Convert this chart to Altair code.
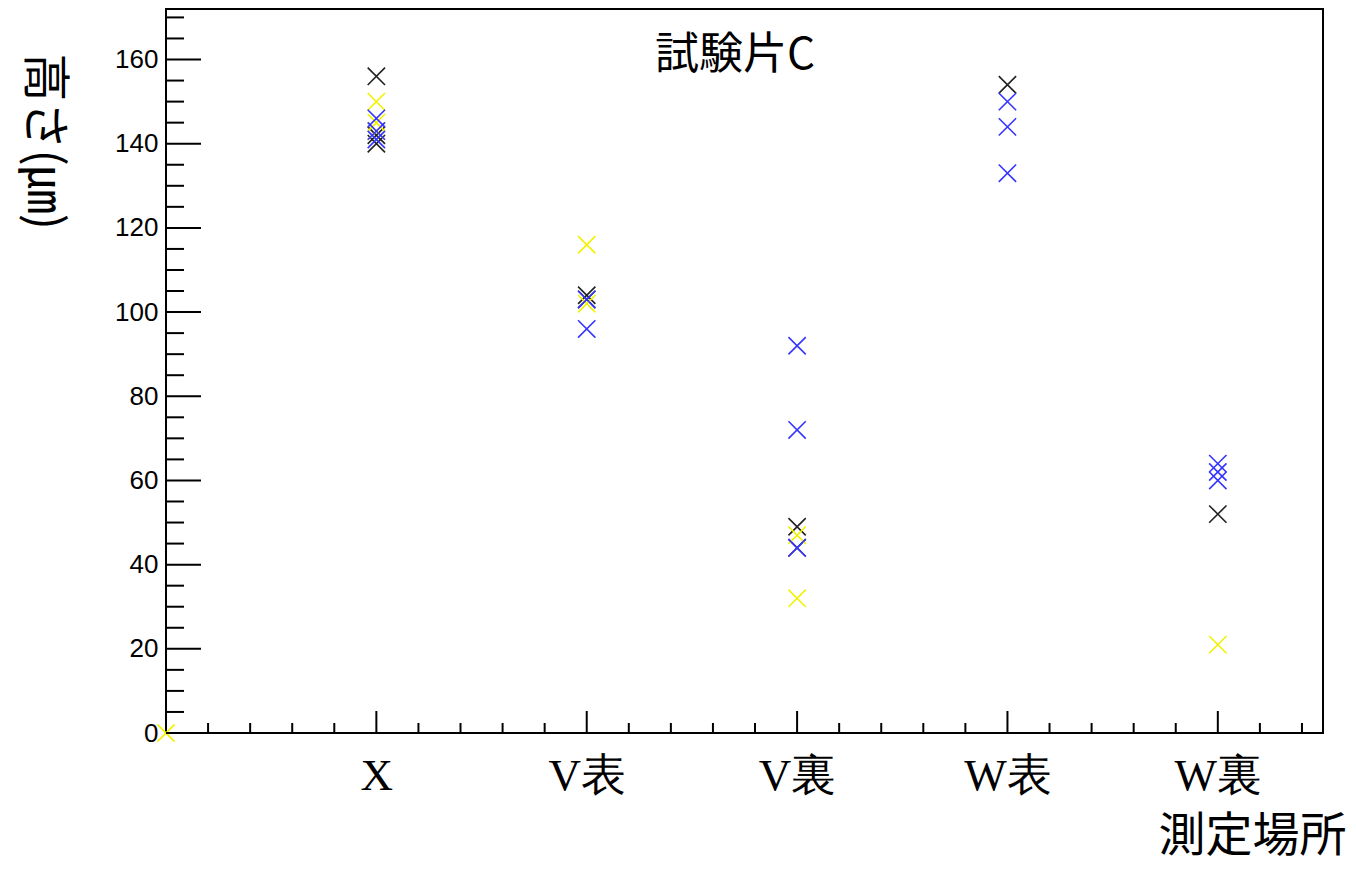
import altair as alt
import pandas as pd

# Measurement locations (x = 1..5)
locations = ["X", "V表", "V裏", "W表", "W裏"]

# Series (marker colours) – position index and height (µm)
black_x = [1, 1, 1, 2, 2, 3, 3, 4, 5]
black_y = [156, 142, 140, 104, 103, 49, 44, 154, 52]
yellow_x = [0, 1, 1, 1, 2, 2, 3, 3, 5]
yellow_y = [0, 150, 145, 143, 116, 102, 47, 32, 21]
blue_x = [1, 1, 1, 2, 2, 3, 3, 3, 4, 4, 4, 5, 5, 5]
blue_y = [146, 143, 141, 103, 96, 92, 72, 44, 150, 144, 133, 64, 62, 60]

series_names = ["black", "yellow", "blue"]
series_colors = ["#222222", "#f2f200", "#3535ff"]

y_major = [0, 20, 40, 60, 80, 100, 120, 140, 160]
y_minor = [v for v in range(5, 172, 5) if v % 20 != 0]
x_major = [1, 2, 3, 4, 5]
x_minor = [round(i * 0.2, 1) for i in range(1, 28) if i % 5 != 0]

rows = []
for name, xs_, ys_ in zip(series_names, [black_x, yellow_x, blue_x], [black_y, yellow_y, blue_y]):
    for a, b in zip(xs_, ys_):
        rows.append({"pos": a, "h": b, "s": name})
df = pd.DataFrame(rows)

W, H = 1157, 724
xscale = alt.Scale(domain=[0, 5.5], nice=False, zero=False)
yscale = alt.Scale(domain=[0, 172], nice=False, zero=False)

label_expr = "[" + ",".join("'%s'" % c for c in locations) + "][datum.value-1]"

x_axis = alt.Axis(
    values=x_major, labelExpr=label_expr, tickSize=0, domain=False, grid=False,
    labelFont="Liberation Serif", labelFontSize=45, labelFontWeight="normal",
    labelColor="black", labelPadding=20,
    title="測定場所", titleFont="Noto Sans CJK JP", titleFontSize=47,
    titleFontWeight="normal", titleColor="black",
    titleX=1180, titleY=117, titleAlign="right", titleBaseline="alphabetic",
)
y_axis = alt.Axis(
    values=y_major, tickSize=0, domain=False, grid=False,
    labelFont="Liberation Sans", labelFontSize=26, labelColor="black", labelPadding=8,
    title="高さ(㎛)", titleFont="Noto Sans CJK JP", titleFontSize=48,
    titleFontWeight="normal", titleColor="black", titleAngle=90,
    titleX=-124, titleY=44, titleAlign="left", titleBaseline="middle",
)

points = alt.Chart(df).mark_point(
    shape="M-1,-1L1,1M1,-1L-1,1", size=300, filled=False, strokeWidth=1.6, opacity=1
).encode(
    x=alt.X("pos:Q", scale=xscale, axis=x_axis),
    y=alt.Y("h:Q", scale=yscale, axis=y_axis),
    color=alt.Color("s:N", scale=alt.Scale(domain=series_names, range=series_colors), legend=None),
    order=alt.Order("idx:Q"),
).transform_window(idx="row_number()")

yt_major = alt.Chart(pd.DataFrame({"v": y_major})).mark_rule(color="black", strokeWidth=2).encode(
    y=alt.Y("v:Q", scale=yscale, axis=y_axis), x=alt.value(0), x2=alt.value(35))
yt_minor = alt.Chart(pd.DataFrame({"v": y_minor})).mark_rule(color="black", strokeWidth=2).encode(
    y=alt.Y("v:Q", scale=yscale, axis=y_axis), x=alt.value(0), x2=alt.value(18))
xt_major = alt.Chart(pd.DataFrame({"v": x_major})).mark_rule(color="black", strokeWidth=2).encode(
    x=alt.X("v:Q", scale=xscale, axis=x_axis), y=alt.value(H), y2=alt.value(H - 22))
xt_minor = alt.Chart(pd.DataFrame({"v": x_minor})).mark_rule(color="black", strokeWidth=2).encode(
    x=alt.X("v:Q", scale=xscale, axis=x_axis), y=alt.value(H), y2=alt.value(H - 10))

title = alt.Chart(pd.DataFrame({"t": ["試験片C"]})).mark_text(
    font="Noto Sans CJK JP", fontSize=44, color="black", baseline="middle", align="center"
).encode(text="t:N", x=alt.value(569), y=alt.value(47))

chart = alt.layer(points, yt_major, yt_minor, xt_major, xt_minor, title).properties(
    width=W, height=H,
    autosize=alt.AutoSizeParams(type="none"),
    padding={"left": 158, "top": 1, "right": 25, "bottom": 129},
    background="white",
).configure_view(stroke="black", strokeWidth=2)

chart.save("out.html", embed_options={"renderer": "svg", "actions": False})
